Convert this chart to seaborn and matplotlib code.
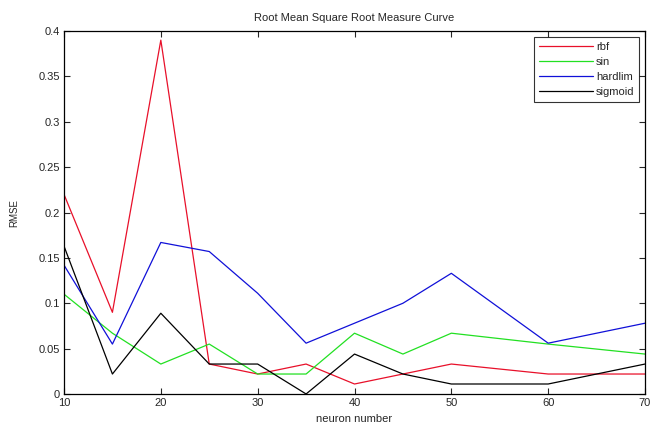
import pandas as pd
import matplotlib
matplotlib.use("Agg")
import matplotlib.pyplot as plt
import seaborn as sns

# neuron counts and RMSE per activation function
neurons = [10, 15, 20, 25, 30, 35, 40, 45, 50, 60, 70]
rbf = [0.22, 0.09, 0.39, 0.033, 0.022, 0.033, 0.011, 0.022, 0.033, 0.022, 0.022]
sin = [0.11, 0.067, 0.033, 0.055, 0.022, 0.022, 0.067, 0.044, 0.067, 0.055, 0.044]
hardlim = [0.142, 0.055, 0.167, 0.157, 0.111, 0.056, 0.078, 0.1, 0.133, 0.056, 0.078]
sigmoid = [0.163, 0.022, 0.089, 0.033, 0.033, 0.0, 0.044, 0.022, 0.011, 0.011, 0.033]

series_names = ["rbf", "sin", "hardlim", "sigmoid"]
colors = ["#e8102a", "#22e022", "#1010d8", "#000000"]

df = pd.DataFrame({"neurons": neurons, "rbf": rbf, "sin": sin,
                   "hardlim": hardlim, "sigmoid": sigmoid})
long_df = df.melt(id_vars="neurons", var_name="func", value_name="rmse")

sns.set_style("white")
plt.rcParams['font.family'] = ['Liberation Sans', 'DejaVu Sans']

fig = plt.figure(figsize=(6.51, 4.23), dpi=100)
ax = fig.add_axes([0.0983, 0.0686, 0.8925, 0.858])

sns.lineplot(data=long_df, x="neurons", y="rmse", hue="func",
             hue_order=series_names, palette=dict(zip(series_names, colors)),
             linewidth=0.9, ax=ax)

ax.set_xlim(10, 70)
ax.set_ylim(0, 0.4)
ax.set_xticks([10, 20, 30, 40, 50, 60, 70])
ax.set_yticks([0, 0.05, 0.1, 0.15, 0.2, 0.25, 0.3, 0.35, 0.4])
ax.set_yticklabels(["0", "0.05", "0.1", "0.15", "0.2", "0.25", "0.3", "0.35", "0.4"])
ax.tick_params(direction="in", length=4, width=0.8, labelsize=8,
               top=True, right=True, bottom=True, left=True, pad=3)
for s in ax.spines.values():
    s.set_color("black")
    s.set_linewidth(0.9)

ax.set_title("Root Mean Square Root Measure Curve", fontsize=8, pad=7)
ax.set_xlabel("neuron number", fontsize=8, labelpad=4)
ax.set_ylabel("RMSE", fontsize=7, labelpad=14)

leg = ax.legend(loc="upper right", fontsize=8, frameon=True, fancybox=False,
                borderaxespad=0.5, handlelength=4.8, labelspacing=0.45,
                borderpad=0.45, handletextpad=0.3)
leg.get_frame().set_edgecolor("black")
leg.get_frame().set_linewidth(0.8)

fig.savefig("out.png", dpi=100)
